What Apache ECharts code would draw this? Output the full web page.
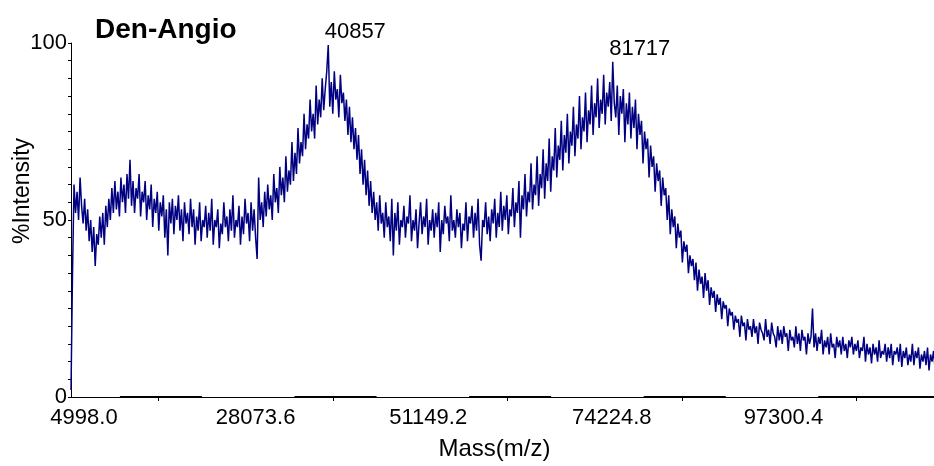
<!DOCTYPE html>
<html>
<head>
<meta charset="utf-8">
<script src="https://cdn.jsdelivr.net/npm/echarts@6/dist/echarts.min.js"></script>
<style>html,body{margin:0;padding:0;background:#fff;}#c{width:934px;height:466px;}</style>
</head>
<body>
<div id="c"></div>
<script>
// ---- data ----
const chartTitle = 'Den-Angio';
const xTickLabels = ['4998.0', '28073.6', '51149.2', '74224.8', '97300.4'];
const massStart = 4998.0;      // first sampled mass
const massStep = 200;          // spacing of sampled masses (Da)
const massEnd = 119055;        // right edge of the visible mass range
const intensity = [
  2, 35, 60, 52, 58, 50, 62, 54, 49, 56,
  47, 53, 44, 50, 41, 48, 37, 46, 43, 51,
  45, 52, 43, 54, 48, 56, 50, 59, 52, 61,
  53, 58, 51, 62, 55, 60, 52, 63, 56, 67,
  54, 61, 52, 59, 56, 63, 51, 58, 55, 61,
  50, 57, 53, 60, 48, 56, 52, 58, 47, 55,
  51, 57, 45, 53, 40, 55, 49, 56, 46, 54,
  50, 57, 47, 53, 44, 55, 49, 52, 46, 56,
  48, 53, 43, 51, 47, 55, 44, 50, 48, 54,
  45, 52, 47, 56, 43, 50, 48, 53, 42, 49,
  46, 55, 48, 51, 44, 53, 47, 57, 45, 50,
  48, 54, 43, 51, 46, 56, 49, 52, 44, 55,
  47, 53, 45, 39, 62, 50, 55, 48, 58, 51,
  60, 53, 57, 50, 63, 55, 59, 52, 65, 57,
  62, 55, 68, 58, 64, 60, 72, 61, 69, 63,
  76, 66, 72, 68, 80, 70, 77, 73, 84, 75,
  80, 73, 88, 77, 84, 79, 90, 81, 87, 92,
  99.4, 82, 89, 80, 92, 84, 87, 79, 91, 83,
  86, 78, 84, 74, 82, 72, 79, 70, 76, 67,
  74, 63, 70, 60, 67, 57, 64, 54, 61, 52,
  58, 50, 55, 47, 57, 49, 52, 45, 55, 48,
  51, 44, 56, 40, 52, 47, 55, 43, 50, 48,
  54, 45, 51, 49, 57, 44, 50, 47, 53, 42,
  49, 55, 46, 51, 48, 56, 43, 50, 47, 53,
  45, 52, 48, 55, 41, 50, 46, 54, 49, 51,
  44, 57, 47, 50, 45, 53, 48, 52, 42, 49,
  47, 55, 44, 51, 49, 54, 45, 52, 47, 56,
  43, 38.5, 50, 48, 55, 46, 51, 44, 53, 49,
  56, 45, 52, 48, 58, 47, 54, 50, 57, 46,
  53, 51, 59, 48, 55, 52, 61, 45, 57, 53,
  63, 51, 58, 55, 66, 53, 60, 57, 68, 54,
  63, 59, 70, 56, 66, 61, 73, 58, 68, 64,
  76, 62, 71, 67, 78, 64, 74, 69, 80, 66,
  75, 71, 82, 68, 77, 73, 85, 70, 79, 75,
  86, 72, 81, 77, 88, 74, 83, 79, 90, 76,
  84, 80, 91, 77, 86, 82, 89, 78, 94.7, 83,
  79, 88, 74, 85, 80, 87, 72, 83, 77, 86,
  73, 82, 76, 84, 70, 80, 74, 78, 66, 75,
  70, 73, 62, 71, 65, 68, 58, 66, 61, 64,
  54, 62, 57, 59, 50, 57, 46, 53, 48, 51,
  42, 49, 45, 47, 38, 44, 41, 43, 35, 40,
  37, 39, 33, 38, 30, 36, 32, 34, 28, 35,
  30, 33, 26, 31, 28, 30, 24, 29, 26, 28,
  22, 27, 25, 26, 20, 25, 23, 24, 19, 23,
  21, 22, 17, 23, 20, 21, 16, 22, 19, 20,
  17, 22, 18, 20, 15, 21, 19, 18, 16, 22,
  17, 19, 15, 21, 18, 17, 14, 20, 16, 19,
  15, 20, 17, 18, 13, 19, 16, 17, 14, 20,
  15, 18, 13, 19, 16, 17, 12, 18, 15, 17,
  25, 14, 18, 13, 17, 15, 19, 12, 16, 14,
  17, 12, 18, 14, 15, 11, 17, 14, 16, 12,
  17, 13, 15, 11, 16, 14, 17, 12, 15, 13,
  16, 11, 14, 13, 17, 10, 15, 12, 14, 9.5,
  15, 12, 14, 10, 16, 11, 13, 12, 15, 10,
  14, 11, 15, 9, 13, 12, 14, 10, 15, 8.5,
  13, 11, 14, 9, 12, 10, 15, 9, 13, 11,
  14, 8, 12, 10, 13, 9, 14, 7.5, 12, 10,
  13, 8, 12, 9, 14, 7, 11, 9
];
const peakIndex = [170, 358];
const peakLabels = ['40857', '81717'];
const yTicks = [0, 50, 100];

// ---- build ----
const seriesData = intensity.map((v, i) => [massStart + i * massStep, v]);
const xInterval = 23075.6;
const FF = "'Liberation Sans', Arial, sans-serif";
const labelPad = [26, 20, 16, 34, 28];
const richX = {};
labelPad.forEach((p, k) => { richX['p' + k] = { padding: [0, 0, 0, p], fontSize: 22, color: '#000', fontFamily: FF }; });
// thin full axis base line plus heavier stretches around each mid-interval tick
const axisSegs = [[{ coord: [massStart, 0], lineStyle: { width: 1 } }, { coord: [massEnd, 0] }]];
xTickLabels.forEach((t, k) => {
  const mid = massStart + (k + 0.5) * xInterval;
  const end = (k === xTickLabels.length - 1) ? massEnd : mid + 0.25 * xInterval;
  axisSegs.push([{ coord: [mid - 0.22 * xInterval, 0] }, { coord: [end, 0] }]);
});

const chart = echarts.init(document.getElementById('c'), null, { renderer: 'canvas' });
chart.setOption({
  animation: false,
  backgroundColor: '#fff',
  textStyle: { fontFamily: FF },
  title: {
    text: chartTitle, left: 90, top: 11,
    textStyle: { fontFamily: FF, fontSize: 28, fontWeight: 'bold', color: '#000' }
  },
  graphic: [{
    type: 'text', x: 23, y: 191, rotation: Math.PI / 2,
    style: { text: '%Intensity', font: "23px 'Liberation Sans', Arial", fill: '#000',
             textAlign: 'center', textVerticalAlign: 'middle' }
  }],
  grid: { left: 71, right: 0, top: 43, bottom: 65, containLabel: false },
  xAxis: {
    type: 'value', min: massStart, max: massEnd, interval: xInterval,
    name: 'Mass(m/z)', nameLocation: 'middle', nameGap: 40,
    nameTextStyle: { fontFamily: FF, fontSize: 24, color: '#000', padding: [0, 16, 0, 0] },
    axisLine: { show: true, onZero: false, lineStyle: { color: '#000', width: 1 } },
    axisTick: { show: false },
    minorTick: { show: true, splitNumber: 2, length: 4, lineStyle: { color: '#000', width: 1 } },
    splitLine: { show: false }, minorSplitLine: { show: false },
    axisLabel: {
      color: '#000', fontFamily: FF, fontSize: 22, margin: 10, showMaxLabel: false,
      rich: richX,
      formatter: (v) => {
        const i = Math.round((v - massStart) / xInterval);
        if (Math.abs(v - (massStart + i * xInterval)) > 1) return '';
        return xTickLabels[i] ? '{p' + i + '|' + xTickLabels[i] + '}' : '';
      }
    }
  },
  yAxis: {
    type: 'value', min: 0, max: 100, interval: 50,
    axisLine: { show: true, lineStyle: { color: '#000', width: 1 } },
    axisTick: { show: true, length: 3, lineStyle: { color: '#000' } },
    minorTick: { show: true, splitNumber: 10, length: 3, lineStyle: { color: '#000' } },
    splitLine: { show: false }, minorSplitLine: { show: false },
    axisLabel: { color: '#000', fontFamily: FF, fontSize: 22, margin: 4,
      formatter: (v) => yTicks.indexOf(v) >= 0 ? String(v) : '' }
  },
  series: [{
    type: 'line', data: seriesData, showSymbol: false, symbol: 'none',
    lineStyle: { color: '#000080', width: 1.5 }, sampling: null, clip: true,
    z: 2,
    markPoint: {
      symbol: 'circle', symbolSize: 0, silent: true,
      data: peakIndex.map((idx, k) => ({ coord: seriesData[idx], name: peakLabels[k] })),
      label: { show: true, position: 'top', distance: 2, offset: [27, 0],
        formatter: (p) => p.name, color: '#000', fontFamily: FF, fontSize: 22,
        textBorderWidth: 0, opacity: 1 }
    },
    markLine: {
      silent: true, symbol: ['none', 'none'], animation: false,
      label: { show: false },
      lineStyle: { color: '#000', width: 2, type: 'solid', opacity: 1 },
      emphasis: { disabled: true },
      data: axisSegs
    }
  }]
});
</script>
</body>
</html>
